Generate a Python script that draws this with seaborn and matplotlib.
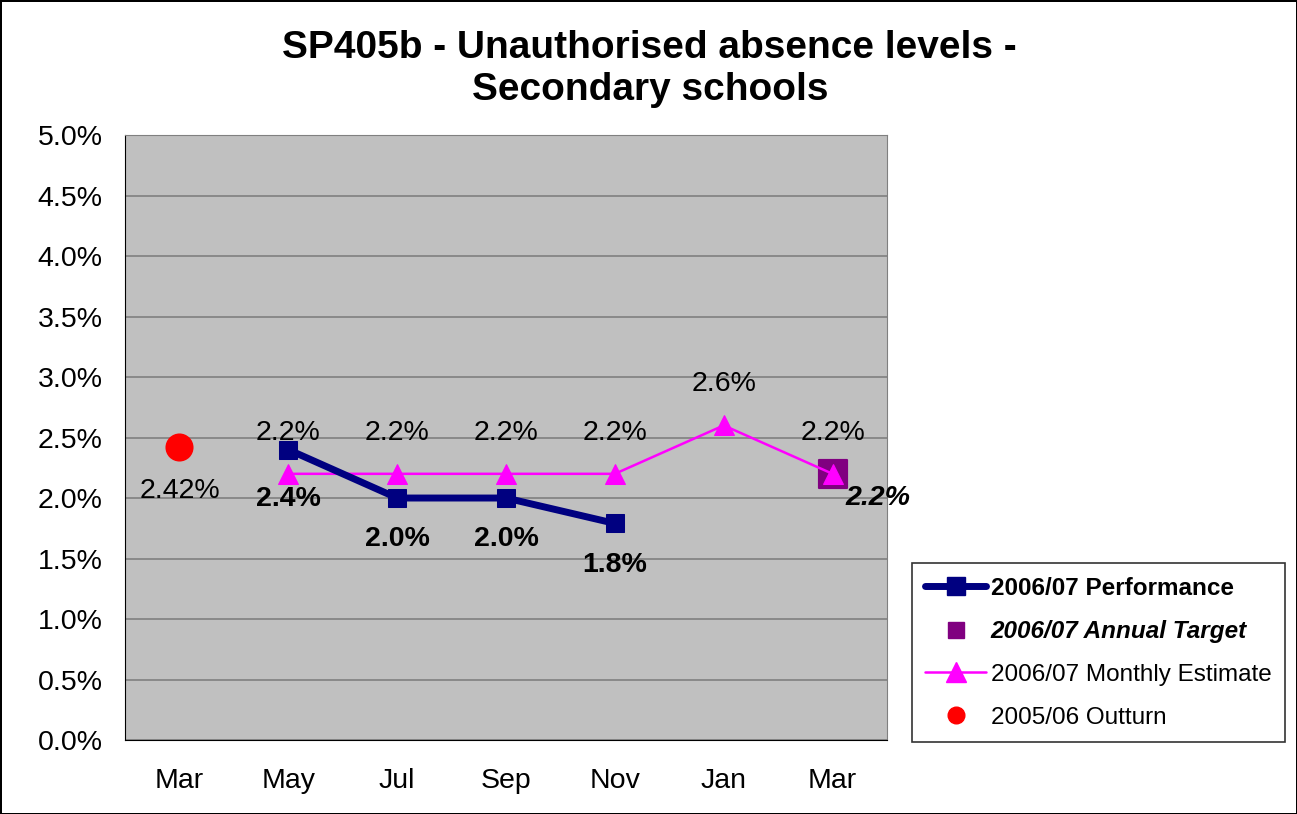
import seaborn as sns
import pandas as pd
import numpy as np
import matplotlib.pyplot as plt
from matplotlib.lines import Line2D

# Chart data
months = ['Mar', 'May', 'Jul', 'Sep', 'Nov', 'Jan', 'Mar']
perf_values = [np.nan, 2.4, 2.0, 2.0, 1.79, np.nan, np.nan]
perf_labels = ['', '2.4%', '2.0%', '2.0%', '1.8%', '', '']
target_values = [np.nan, np.nan, np.nan, np.nan, np.nan, np.nan, 2.2]
estimate_values = [np.nan, 2.2, 2.2, 2.2, 2.2, 2.6, 2.2]
estimate_labels = ['', '2.2%', '2.2%', '2.2%', '2.2%', '2.6%', '2.2%']
outturn_values = [2.42, np.nan, np.nan, np.nan, np.nan, np.nan, np.nan]

sns.set_style('white')
plt.rcParams['font.family'] = ['Liberation Sans', 'DejaVu Sans']
plt.rcParams['text.color'] = 'black'
plt.rcParams['xtick.color'] = 'black'
plt.rcParams['ytick.color'] = 'black'

data = pd.DataFrame({
    'pos': np.arange(len(months)),
    'month': months,
    'perf': perf_values,
    'target': target_values,
    'estimate': estimate_values,
    'outturn': outturn_values,
})

fig = plt.figure(figsize=(12.97, 8.14), dpi=100)
fig.patch.set_edgecolor('black')
fig.patch.set_linewidth(2)
ax = fig.add_axes([0.0964, 0.0909, 0.5875, 0.7432])
ax.set_facecolor('#C0C0C0')

# Target square (drawn under the estimate triangle)
sns.scatterplot(data=data, x='pos', y='target', ax=ax, color='#800080',
                marker='s', s=380, edgecolor='#800080', zorder=2)
# Estimate line (thin magenta with triangles)
sns.lineplot(data=data.dropna(subset=['estimate']), x='pos', y='estimate', ax=ax,
             color='#FF00FF', linewidth=1.8, marker='^', markersize=14,
             markeredgecolor='#FF00FF', zorder=3)
# Performance line (thick navy squares)
sns.lineplot(data=data.dropna(subset=['perf']), x='pos', y='perf', ax=ax,
             color='#000080', linewidth=5, marker='s', markersize=13,
             markeredgecolor='#000080', zorder=4)
# Outturn dot
sns.scatterplot(data=data, x='pos', y='outturn', ax=ax, color='#FF0000',
                marker='o', s=350, edgecolor='#FF0000', zorder=3)

# Data labels
lab_size = 20.5
for i in range(len(months)):
    if estimate_labels[i]:
        ax.text(i, estimate_values[i] + 0.34, estimate_labels[i], ha='center',
                va='center', fontsize=lab_size)
    if perf_labels[i]:
        off = 0.41 if i == 1 else 0.34
        ax.text(i, perf_values[i] - off, perf_labels[i], ha='center',
                va='center', fontsize=lab_size, fontweight='bold')
ax.text(0, outturn_values[0] - 0.36, '2.42%', ha='center', va='center',
        fontsize=lab_size)
ax.text(6.12, target_values[6] - 0.2, '2.2%', ha='left', va='center',
        fontsize=lab_size, fontweight='bold', fontstyle='italic', clip_on=False)

ax.set_xlim(-0.5, 6.5)
ax.set_ylim(0, 5)
yt = np.arange(0, 5.01, 0.5)
ax.set_yticks(yt)
ax.set_yticklabels([f'{v:.1f}%' for v in yt], fontsize=20.5)
ax.set_xticks(np.arange(len(months)))
ax.set_xticklabels(months, fontsize=20.5)
ax.set_xticks(np.arange(-0.5, 6.6, 1), minor=True)
ax.tick_params(axis='x', which='major', length=0, pad=20)
ax.tick_params(axis='x', which='minor', length=6, direction='out', color='black')
ax.tick_params(axis='y', length=6, direction='out', color='black', pad=10)
ax.grid(axis='y', color='#808080', linewidth=1.2)
ax.set_axisbelow(True)
ax.set_xlabel('')
ax.set_ylabel('')
for side in ['top', 'right']:
    ax.spines[side].set_color('#808080')
for side in ['left', 'bottom']:
    ax.spines[side].set_color('black')

fig.text(0.501, 0.963, 'SP405b - Unauthorised absence levels -\nSecondary schools',
         ha='center', va='top', fontsize=28, fontweight='bold', linespacing=1.2)

# Legend
handles = [
    Line2D([], [], color='#000080', linewidth=5, marker='s', markersize=13),
    Line2D([], [], color='#800080', linestyle='none', marker='s', markersize=11),
    Line2D([], [], color='#FF00FF', linewidth=1.8, marker='^', markersize=14),
    Line2D([], [], color='#FF0000', linestyle='none', marker='o', markersize=12),
]
names = ['2006/07 Performance', '2006/07 Annual Target',
         '2006/07 Monthly Estimate', '2005/06 Outturn']
leg = fig.legend(handles, names, loc='upper left', bbox_to_anchor=(0.703, 0.308),
                 frameon=True, fancybox=False, edgecolor='black', fontsize=17.5,
                 handlelength=2.5, labelspacing=0.85, borderpad=0.55,
                 handletextpad=0.2, borderaxespad=0)
leg.get_frame().set_linewidth(1.2)
texts = leg.get_texts()
texts[0].set_fontweight('bold')
texts[1].set_fontweight('bold')
texts[1].set_fontstyle('italic')

fig.savefig('out.png', dpi=100)
